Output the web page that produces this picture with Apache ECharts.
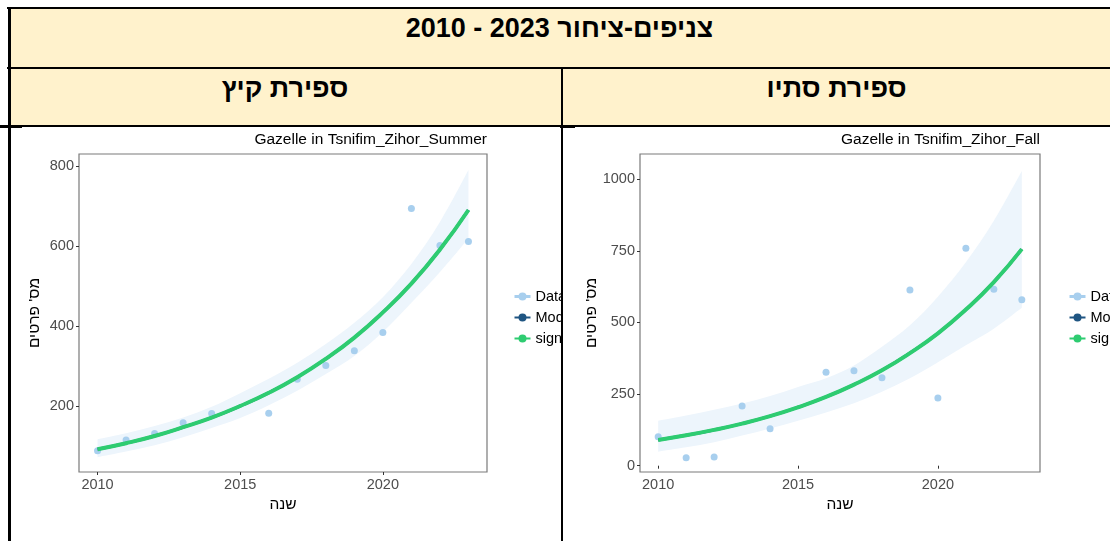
<!DOCTYPE html>
<html>
<head>
<meta charset="utf-8">
<script src="https://cdn.jsdelivr.net/npm/echarts@6/dist/echarts.min.js"></script>
<style>
html,body{margin:0;padding:0;background:#fff;width:1110px;height:541px;overflow:hidden;font-family:"Liberation Sans",Arial,sans-serif;}
.fill{position:absolute;background:#FFF2CC;color:#000;font-weight:bold;font-size:27px;text-align:center;white-space:nowrap;}
.ln{position:absolute;background:#000;}
.chart{position:absolute;overflow:hidden;background:#fff;}
</style>
</head>
<body>
<div class="fill" style="left:9px;top:9px;width:1101px;height:58px;line-height:38px;">2010 - 2023 צניפים-ציחור</div>
<div class="fill" style="left:9px;top:69px;width:552px;height:56px;line-height:38px;">ספירת קיץ</div>
<div class="fill" style="left:563px;top:69px;width:547px;height:56px;line-height:38px;">ספירת סתיו</div>
<div class="ln" style="left:7px;top:7px;width:1103px;height:2px;"></div>
<div class="ln" style="left:7px;top:67px;width:1103px;height:2px;"></div>
<div class="ln" style="left:7px;top:125px;width:1103px;height:2px;"></div>
<div class="ln" style="left:0px;top:125px;width:22px;height:3px;"></div>
<div class="ln" style="left:560px;top:125px;width:15px;height:3px;"></div>
<div class="ln" style="left:8px;top:7px;width:3px;height:534px;"></div>
<div class="ln" style="left:561px;top:67px;width:2px;height:474px;"></div>
<div id="left" class="chart" style="left:11px;top:128px;width:550px;height:413px;"></div>
<div id="right" class="chart" style="left:563px;top:128px;width:547px;height:413px;"></div>
<script>
// ---------- data ----------
const fitYears = [2010,2011,2012,2013,2014,2015,2016,2017,2018,2019,2020,2021,2022,2023];
const xTickLabels = [2010,2015,2020];

const summerYears  = [2010,2011,2012,2013,2014,2016,2017,2018,2019,2020,2021,2022,2023];
const summerCounts = [88,115,131,158,181,182,267,301,338,384,694,601,611];
const summerFit    = [92,107,125,147,171,200,233,272,318,371,434,506,591,690];
const summerLower  = [72,86,102,122,145,170,202,238,280,325,385,458,535,619];
const summerUpper  = [117,132,150,171,198,232,268,308,355,408,472,555,660,790];
const summerYTicks = [200,400,600,800];

const fallYears  = [2010,2011,2012,2013,2014,2016,2017,2018,2019,2020,2021,2022,2023];
const fallCounts = [101,28,30,208,129,326,331,307,613,236,759,616,579];
const fallFit    = [90,106,125,147,173,204,240,283,333,393,462,545,641,756];
const fallLower  = [49,64,82,105,130,157,186,218,258,305,361,420,478,551];
const fallUpper  = [157,175,195,217,243,275,305,350,415,490,590,710,855,1029];
const fallYTicks = [0,250,500,750,1000];

const legendNames = ['Data','Model','significant'];
// ---------- styles ----------
const FONT = '"Liberation Sans", Arial, sans-serif';
const C_DATA = '#a8cfee', C_MODEL = '#1f5582', C_SIG = '#2ecc71', C_BAND = '#edf5fc';

function plain(v){ return String(v); }

// smooth path segments (Catmull-Rom -> cubic Bezier) through already-projected pixel points
function smoothSegs(p) {
  let d = '';
  for (let i = 0; i < p.length - 1; i++) {
    const p0 = p[Math.max(i - 1, 0)], p1 = p[i], p2 = p[i + 1], p3 = p[Math.min(i + 2, p.length - 1)];
    const c1x = p1[0] + (p2[0] - p0[0]) / 6, c1y = p1[1] + (p2[1] - p0[1]) / 6;
    const c2x = p2[0] - (p3[0] - p1[0]) / 6, c2y = p2[1] - (p3[1] - p1[1]) / 6;
    d += ' C' + c1x + ' ' + c1y + ' ' + c2x + ' ' + c2y + ' ' + p2[0] + ' ' + p2[1];
  }
  return d;
}

function panel(el, cfg) {
  const chart = echarts.init(document.getElementById(el), null, {renderer:'canvas'});
  const pts = cfg.years.map((y,i)=>[y, cfg.counts[i]]);
  const fit = fitYears.map((y,i)=>[y, cfg.fit[i]]);
  chart.setOption({
    animation:false,
    textStyle:{fontFamily:FONT},
    title:{text:cfg.title, right:cfg.titleRight, top:4, padding:0,
      textStyle:{fontSize:15.5, fontWeight:'normal', color:'#000', fontFamily:FONT}},
    grid:{left:cfg.gridLeft, top:26, width:cfg.gridWidth, height:318, show:true,
      borderColor:'#7a7a7a', borderWidth:1.2, backgroundColor:'#fff'},
    legend:{orient:'vertical', left:cfg.legendLeft, top:156, itemWidth:16, itemHeight:10, itemGap:6,
      textStyle:{fontSize:14.5, color:'#000', fontFamily:FONT},
      data:[
        {name:legendNames[0], lineStyle:{color:C_DATA, width:3, opacity:1}},
        {name:legendNames[1]},
        {name:legendNames[2]}
      ]},
    xAxis:{type:'value', min:2009.35, max:2023.65,
      name:'שנה', nameLocation:'middle', nameGap:25, nameMoveOverlap:false,
      nameTextStyle:{fontSize:15.5, color:'#000', fontFamily:FONT},
      axisLine:{show:false}, splitLine:{show:false},
      axisTick:{show:true, length:3, customValues:xTickLabels, lineStyle:{color:'#333'}},
      axisLabel:{customValues:xTickLabels, formatter:plain, fontSize:14.5, color:'#4d4d4d', margin:5, fontFamily:FONT}},
    yAxis:{type:'value', min:cfg.yMin, max:cfg.yMax,
      name:"מס' פרטים", nameLocation:'middle', nameRotate:90, nameGap:cfg.nameGap, nameMoveOverlap:false,
      nameTextStyle:{fontSize:15.5, color:'#000', fontFamily:FONT},
      axisLine:{show:false}, splitLine:{show:false},
      axisTick:{show:true, length:3, customValues:cfg.yTicks, lineStyle:{color:'#333'}},
      axisLabel:{customValues:cfg.yTicks, formatter:plain, fontSize:14.5, color:'#4d4d4d', margin:5, fontFamily:FONT}},
    series:[
      {type:'custom', name:'band', silent:true, clip:true, z:1,
       data: fitYears.map((y,i)=>[y, cfg.lower[i], cfg.upper[i]]),
       renderItem:function(params, api){
         if (params.dataIndex !== 0) return null;
         const up = fitYears.map((y,i)=>api.coord([y, cfg.upper[i]]));
         const lo = fitYears.map((y,i)=>api.coord([y, cfg.lower[i]])).reverse();
         const d = 'M' + up[0][0] + ' ' + up[0][1] + smoothSegs(up) +
                   ' L' + lo[0][0] + ' ' + lo[0][1] + smoothSegs(lo) + ' Z';
         return {type:'path', shape:{pathData:d}, style:{fill:C_BAND}};
       }},
      {type:'line', name:legendNames[0], data:pts, z:2, symbol:'circle', symbolSize:7, showSymbol:true,
       itemStyle:{color:C_DATA}, lineStyle:{width:0, opacity:0, color:C_DATA}},
      {type:'line', name:legendNames[1], data:fit, z:3, smooth:true, symbol:'circle', symbolSize:6, showSymbol:false,
       itemStyle:{color:C_MODEL}, lineStyle:{width:3, color:C_MODEL}},
      {type:'line', name:legendNames[2], data:fit, z:4, smooth:true, symbol:'circle', symbolSize:6, showSymbol:false,
       itemStyle:{color:C_SIG}, lineStyle:{width:4, color:C_SIG}}
    ]
  });
}

panel('left', {title:'Gazelle in Tsnifim_Zihor_Summer', titleRight:74, gridLeft:68, gridWidth:408,
  legendLeft:497, yMin:35, yMax:830, nameGap:36, yTicks:summerYTicks,
  years:summerYears, counts:summerCounts, fit:summerFit, lower:summerLower, upper:summerUpper});
panel('right', {title:'Gazelle in Tsnifim_Zihor_Fall', titleRight:70, gridLeft:77, gridWidth:400,
  legendLeft:500, yMin:-22, yMax:1088, nameGap:40, yTicks:fallYTicks,
  years:fallYears, counts:fallCounts, fit:fallFit, lower:fallLower, upper:fallUpper});
</script>
</body>
</html>
